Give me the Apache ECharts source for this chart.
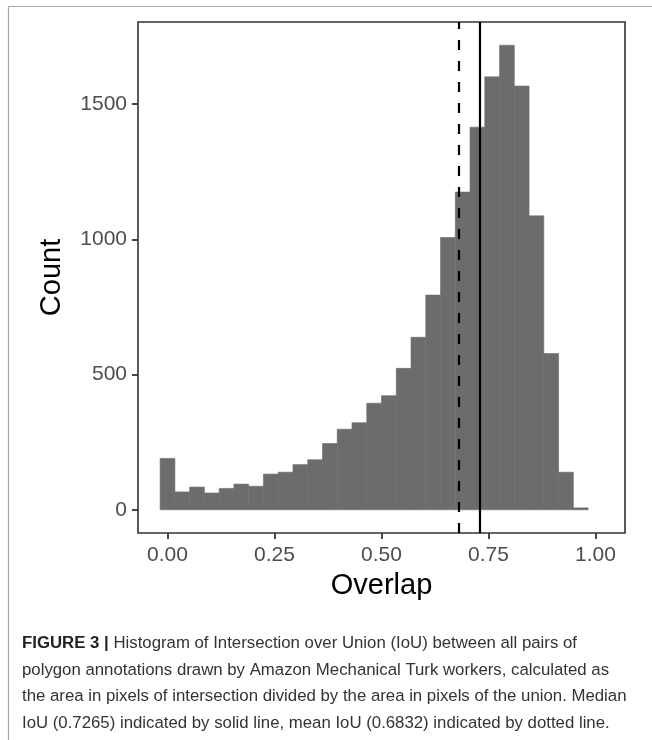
<!DOCTYPE html>
<html>
<head>
<meta charset="utf-8">
<script src="https://cdn.jsdelivr.net/npm/echarts@6/dist/echarts.min.js"></script>
<style>
  html, body { margin: 0; padding: 0; background: #ffffff; }
  #chart { width: 652px; height: 740px; }
</style>
</head>
<body>
<div id="chart"></div>
<script>
// Histogram of pairwise polygon IoU: 30 equal-width bins, first bin centred on 0
const binWidth = 1 / 29;
const firstBinCenter = 0;
const binCounts = [190, 66, 84, 62, 79, 95, 87, 132, 139, 167, 185, 245, 298, 322, 394,
                   422, 523, 638, 794, 1007, 1175, 1415, 1601, 1718, 1567, 1087, 578, 139, 7, 0];

// Summary statistics drawn as vertical reference lines
const medianIoU = 0.7265;
const meanIoU = 0.6832;

const xTickValues = [0, 0.25, 0.5, 0.75, 1.0];
const yTickValues = [0, 500, 1000, 1500];

const captionLines = [
  '{b|FIGURE 3 |} Histogram of Intersection over Union (IoU) between all pairs of',
  'polygon annotations drawn by Amazon Mechanical Turk workers, calculated as',
  'the area in pixels of intersection divided by the area in pixels of the union. Median',
  'IoU (0.7265) indicated by solid line, mean IoU (0.6832) indicated by dotted line.'
];

// Bin rectangles: [left edge, right edge, count]
const bins = binCounts.map((c, i) => {
  const center = firstBinCenter + i * binWidth;
  return [center - binWidth / 2, center + binWidth / 2, c];
});

// ggplot-style 5% padding around the data extent
const xLo = bins[0][0], xHi = bins[bins.length - 1][1];
const xPad = (xHi - xLo) * 0.05;
const yMaxData = Math.max(...binCounts);
const yPad = yMaxData * 0.05;

const FONT = '"Liberation Sans", Arial, Helvetica, sans-serif';
const BAR_FILL = '#6c6c6c';

const chart = echarts.init(document.getElementById('chart'), null, { renderer: 'canvas' });

const captionGraphics = captionLines.map((line, i) => ({
  type: 'text',
  left: 22,
  top: 635 + i * 26.5,
  silent: true,
  style: {
    text: line,
    fontFamily: FONT,
    fontSize: 16.8,
    fill: '#333333',
    rich: {
      b: { fontFamily: FONT, fontSize: 16.8, fontWeight: 'bold', fill: '#222222' }
    }
  }
}));

chart.setOption({
  animation: false,
  backgroundColor: '#ffffff',
  grid: {
    left: 138, right: 27, top: 22, bottom: 207,
    containLabel: false,
    show: true,
    borderColor: '#333333',
    borderWidth: 1.6,
    backgroundColor: '#ffffff'
  },
  xAxis: {
    type: 'value',
    min: xLo - xPad,
    max: xHi + xPad,
    name: 'Overlap',
    nameLocation: 'middle',
    nameGap: 38,
    nameTextStyle: { fontFamily: FONT, fontSize: 29, color: '#000000' },
    axisLine: { show: false, onZero: false },
    splitLine: { show: false },
    axisTick: {
      show: true, length: 6, inside: false,
      customValues: xTickValues,
      lineStyle: { color: '#333333', width: 1.8 }
    },
    axisLabel: {
      customValues: xTickValues,
      margin: 12,
      fontFamily: FONT, fontSize: 21, color: '#4d4d4d',
      formatter: v => v.toFixed(2)
    }
  },
  yAxis: {
    type: 'value',
    min: -yPad,
    max: yMaxData + yPad,
    name: 'Count',
    nameLocation: 'middle',
    nameGap: 72,
    nameTextStyle: { fontFamily: FONT, fontSize: 29, color: '#000000' },
    axisLine: { show: false, onZero: false },
    splitLine: { show: false },
    axisTick: {
      show: true, length: 6, inside: false,
      customValues: yTickValues,
      lineStyle: { color: '#333333', width: 1.8 }
    },
    axisLabel: {
      customValues: yTickValues,
      margin: 11,
      fontFamily: FONT, fontSize: 21, color: '#4d4d4d',
      formatter: v => String(v)
    }
  },
  series: [{
    type: 'custom',
    silent: true,
    data: bins,
    encode: { x: [0, 1], y: 2 },
    renderItem: (params, api) => {
      // empty bins draw nothing
      if (!(api.value(2) > 0)) return null;
      const topLeft = api.coord([api.value(0), api.value(2)]);
      const bottomRight = api.coord([api.value(1), 0]);
      return {
        type: 'rect',
        shape: {
          x: topLeft[0], y: topLeft[1],
          width: bottomRight[0] - topLeft[0],
          height: bottomRight[1] - topLeft[1]
        },
        style: { fill: BAR_FILL, stroke: BAR_FILL, lineWidth: 0.6 }
      };
    },
    markLine: {
      silent: true,
      symbol: 'none',
      label: { show: false },
      data: [
        { xAxis: meanIoU, lineStyle: { type: [10, 11], color: '#000000', width: 2.2 } },
        { xAxis: medianIoU, lineStyle: { type: 'solid', color: '#000000', width: 2.2 } }
      ]
    },
    z: 2
  }],
  graphic: [
    // page frame lines around the figure
    { type: 'line', silent: true, shape: { x1: 8.5, y1: 6.5, x2: 652, y2: 6.5 },
      style: { stroke: '#a8a8a8', lineWidth: 1.2 } },
    { type: 'line', silent: true, shape: { x1: 8.5, y1: 6.5, x2: 8.5, y2: 740 },
      style: { stroke: '#a8a8a8', lineWidth: 1.2 } },
    ...captionGraphics
  ]
});
</script>
</body>
</html>
